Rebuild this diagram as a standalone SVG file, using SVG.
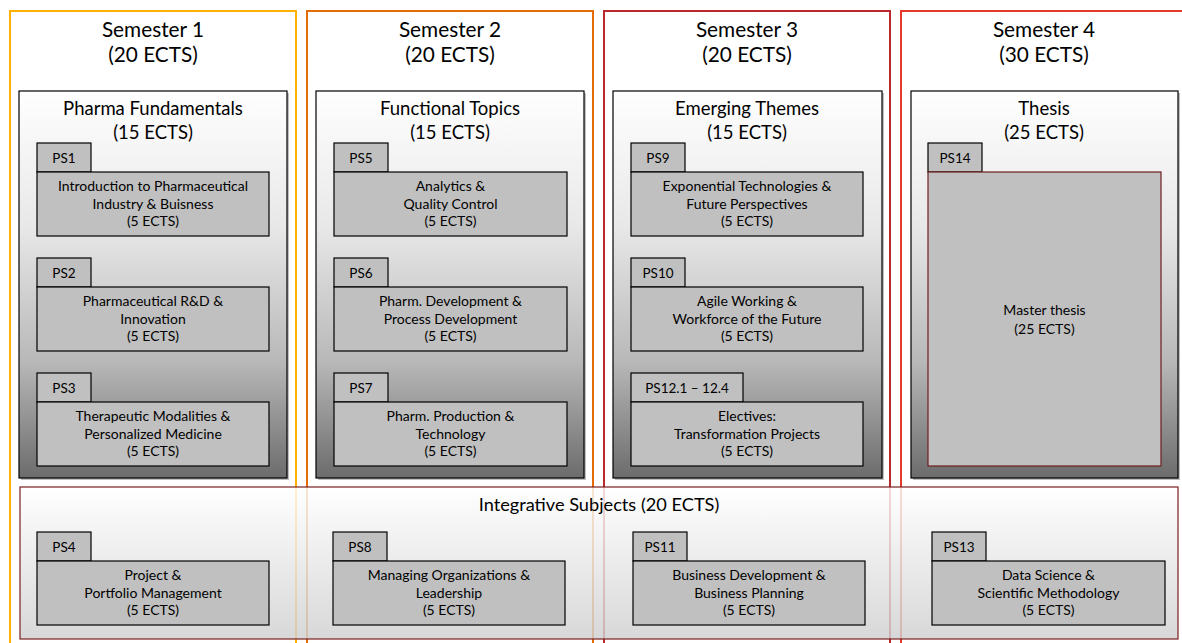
<svg xmlns="http://www.w3.org/2000/svg" width="1182" height="643" viewBox="0 0 1182 643">
<defs>
<linearGradient id="gGroup" x1="0" y1="0" x2="0" y2="1">
<stop offset="0" stop-color="#ffffff"/>
<stop offset="0.35" stop-color="#e8e8e8"/>
<stop offset="0.7" stop-color="#b8b8b8"/>
<stop offset="1" stop-color="#6c6c6c"/>
</linearGradient>
<linearGradient id="gInt" x1="0" y1="0" x2="0" y2="1">
<stop offset="0" stop-color="#ffffff"/>
<stop offset="1" stop-color="#cfcfcf"/>
</linearGradient>
</defs>
<style>
text{font-family:Lato,"Liberation Sans",sans-serif;fill:#000;text-anchor:middle}
.sem{font-size:20.8px}
.grp{font-size:18.5px}
.intt{font-size:18.2px}
.mod{font-size:14px}
.tabt{font-size:13.5px}
.grpbox{fill:url(#gGroup);stroke:#000;stroke-width:1.2}
.shadow{fill:#000;opacity:0.25}
.tab,.box{fill:#c0c0c0;stroke:#000;stroke-width:1.2}
.semrect{fill:none;stroke-width:2}
</style>
<rect width="1182" height="643" fill="#fff"/>

<g id="semester1"><rect class="semrect" x="10" y="11" width="286" height="700" stroke="#FFB000"/>
<text class="sem" x="153" y="36.5">Semester 1</text><text class="sem" x="153" y="62">(20 ECTS)</text></g>
<g id="semester2"><rect class="semrect" x="307" y="11" width="286" height="700" stroke="#E36C09"/>
<text class="sem" x="450" y="36.5">Semester 2</text><text class="sem" x="450" y="62">(20 ECTS)</text></g>
<g id="semester3"><rect class="semrect" x="604" y="11" width="286" height="700" stroke="#B8282C"/>
<text class="sem" x="747" y="36.5">Semester 3</text><text class="sem" x="747" y="62">(20 ECTS)</text></g>
<g id="semester4"><rect class="semrect" x="901" y="11" width="300" height="700" stroke="#E3392B"/>
<text class="sem" x="1044" y="36.5">Semester 4</text><text class="sem" x="1044" y="62">(30 ECTS)</text></g>

<g id="group1"><rect class="shadow" x="21" y="93" width="268" height="387"/><rect class="grpbox" x="19" y="91" width="268" height="387"/>
<text class="grp" x="153" y="114.5">Pharma Fundamentals</text><text class="grp" x="153" y="138.5">(15 ECTS)</text></g>
<g id="group2"><rect class="shadow" x="318" y="93" width="268" height="387"/><rect class="grpbox" x="316" y="91" width="268" height="387"/>
<text class="grp" x="450" y="114.5">Functional Topics</text><text class="grp" x="450" y="138.5">(15 ECTS)</text></g>
<g id="group3"><rect class="shadow" x="615" y="93" width="269" height="387"/><rect class="grpbox" x="613" y="91" width="269" height="387"/>
<text class="grp" x="747" y="114.5">Emerging Themes</text><text class="grp" x="747" y="138.5">(15 ECTS)</text></g>
<g id="group4"><rect class="shadow" x="913" y="93" width="267" height="387"/><rect class="grpbox" x="911" y="91" width="267" height="387"/>
<text class="grp" x="1044" y="114.5">Thesis</text><text class="grp" x="1044" y="138.5">(25 ECTS)</text></g>

<g id="integrative"><rect x="20" y="487" width="1158" height="152" fill="url(#gInt)" fill-opacity="0.82" stroke="#7B1F1F" stroke-width="1.2"/>
<text class="intt" x="599" y="511">Integrative Subjects (20 ECTS)</text></g>

<g id="PS1"><rect class="tab" x="37" y="143" width="54" height="29"/><text class="tabt" x="64" y="163">PS1</text>
<rect class="box" x="37" y="172" width="232" height="64"/>
<text class="mod" x="153" y="191">Introduction to Pharmaceutical</text><text class="mod" x="153" y="208.5">Industry &amp; Buisness</text><text class="mod" x="153" y="226">(5 ECTS)</text></g>
<g id="PS2"><rect class="tab" x="37" y="258" width="54" height="29"/><text class="tabt" x="64" y="278">PS2</text>
<rect class="box" x="37" y="287" width="232" height="64"/>
<text class="mod" x="153" y="306">Pharmaceutical R&amp;D &amp;</text><text class="mod" x="153" y="323.5">Innovation</text><text class="mod" x="153" y="341">(5 ECTS)</text></g>
<g id="PS3"><rect class="tab" x="37" y="373" width="54" height="29"/><text class="tabt" x="64" y="393">PS3</text>
<rect class="box" x="37" y="402" width="232" height="64"/>
<text class="mod" x="153" y="421">Therapeutic Modalities &amp;</text><text class="mod" x="153" y="438.5">Personalized Medicine</text><text class="mod" x="153" y="456">(5 ECTS)</text></g>

<g id="PS5"><rect class="tab" x="334" y="143" width="54" height="29"/><text class="tabt" x="361" y="163">PS5</text>
<rect class="box" x="334" y="172" width="233" height="64"/>
<text class="mod" x="450.5" y="191">Analytics &amp;</text><text class="mod" x="450.5" y="208.5">Quality Control</text><text class="mod" x="450.5" y="226">(5 ECTS)</text></g>
<g id="PS6"><rect class="tab" x="334" y="258" width="54" height="29"/><text class="tabt" x="361" y="278">PS6</text>
<rect class="box" x="334" y="287" width="233" height="64"/>
<text class="mod" x="450.5" y="306">Pharm. Development &amp;</text><text class="mod" x="450.5" y="323.5">Process Development</text><text class="mod" x="450.5" y="341">(5 ECTS)</text></g>
<g id="PS7"><rect class="tab" x="334" y="373" width="54" height="29"/><text class="tabt" x="361" y="393">PS7</text>
<rect class="box" x="334" y="402" width="233" height="64"/>
<text class="mod" x="450.5" y="421">Pharm. Production &amp;</text><text class="mod" x="450.5" y="438.5">Technology</text><text class="mod" x="450.5" y="456">(5 ECTS)</text></g>

<g id="PS9"><rect class="tab" x="631" y="143" width="54" height="29"/><text class="tabt" x="658" y="163">PS9</text>
<rect class="box" x="631" y="172" width="232" height="64"/>
<text class="mod" x="747" y="191">Exponential Technologies &amp;</text><text class="mod" x="747" y="208.5">Future Perspectives</text><text class="mod" x="747" y="226">(5 ECTS)</text></g>
<g id="PS10"><rect class="tab" x="631" y="258" width="54" height="29"/><text class="tabt" x="658" y="278">PS10</text>
<rect class="box" x="631" y="287" width="232" height="64"/>
<text class="mod" x="747" y="306">Agile Working &amp;</text><text class="mod" x="747" y="323.5">Workforce of the Future</text><text class="mod" x="747" y="341">(5 ECTS)</text></g>
<g id="PS12"><rect class="tab" x="631" y="373" width="112" height="29"/><text class="tabt" x="687" y="393">PS12.1 – 12.4</text>
<rect class="box" x="631" y="402" width="232" height="64"/>
<text class="mod" x="747" y="421">Electives:</text><text class="mod" x="747" y="438.5">Transformation Projects</text><text class="mod" x="747" y="456">(5 ECTS)</text></g>

<g id="PS14"><rect class="tab" x="928" y="143" width="54" height="29"/><text class="tabt" x="955" y="163">PS14</text>
<rect x="928" y="172" width="233" height="294" fill="#c0c0c0" stroke="#6B1F1F" stroke-width="1.2"/>
<text class="mod" x="1044.5" y="315">Master thesis</text><text class="mod" x="1044.5" y="333.5">(25 ECTS)</text></g>

<g id="PS4"><rect class="tab" x="37" y="532" width="54" height="29"/><text class="tabt" x="64" y="552">PS4</text>
<rect class="box" x="37" y="561" width="232" height="64"/>
<text class="mod" x="153" y="580">Project &amp;</text><text class="mod" x="153" y="597.5">Portfolio Management</text><text class="mod" x="153" y="615">(5 ECTS)</text></g>
<g id="PS8"><rect class="tab" x="333" y="532" width="54" height="29"/><text class="tabt" x="360" y="552">PS8</text>
<rect class="box" x="333" y="561" width="232" height="64"/>
<text class="mod" x="449" y="580">Managing Organizations &amp;</text><text class="mod" x="449" y="597.5">Leadership</text><text class="mod" x="449" y="615">(5 ECTS)</text></g>
<g id="PS11"><rect class="tab" x="633" y="532" width="54" height="29"/><text class="tabt" x="660" y="552">PS11</text>
<rect class="box" x="633" y="561" width="232" height="64"/>
<text class="mod" x="749" y="580">Business Development &amp;</text><text class="mod" x="749" y="597.5">Business Planning</text><text class="mod" x="749" y="615">(5 ECTS)</text></g>
<g id="PS13"><rect class="tab" x="932" y="532" width="54" height="29"/><text class="tabt" x="959" y="552">PS13</text>
<rect class="box" x="932" y="561" width="233" height="64"/>
<text class="mod" x="1048.5" y="580">Data Science &amp;</text><text class="mod" x="1048.5" y="597.5">Scientific Methodology</text><text class="mod" x="1048.5" y="615">(5 ECTS)</text></g>
</svg>
